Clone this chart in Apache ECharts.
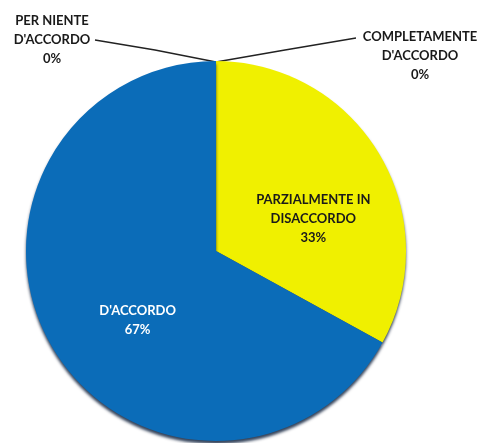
<!DOCTYPE html>
<html>
<head>
<meta charset="utf-8">
<script src="https://cdn.jsdelivr.net/npm/echarts@6/dist/echarts.min.js"></script>
<style>
  html, body { margin: 0; padding: 0; background: #fff; }
  #pie { width: 484px; height: 443px; }
</style>
</head>
<body>
<div id="pie"></div>
<script>
// categories and values (percent)
var categories = [
  "PER NIENTE\nD'ACCORDO",
  "PARZIALMENTE IN\nDISACCORDO",
  "D'ACCORDO",
  "COMPLETAMENTE\nD'ACCORDO"
];
var values = [0, 33, 67, 0];
var colors = ['#0b6cb8', '#f0f000', '#0b6cb8', '#f0f000'];

var chart = echarts.init(document.getElementById('pie'));

var seriesData = categories.map(function (name, i) {
  var item = { name: name, value: values[i], itemStyle: { color: colors[i] } };
  if (values[i] === 0) {
    item.label = { position: 'outside', color: '#1a1a1a' };
    item.labelLine = { show: true };
  } else if (i === 1) {
    item.label = { position: 'inside', color: '#1a1a1a' };
  } else {
    item.label = { position: 'inside', color: '#ffffff' };
  }
  return item;
});

var option = {
  backgroundColor: '#ffffff',
  animation: false,
  series: [{
    type: 'pie',
    center: [216, 251],
    radius: 190,
    startAngle: 90,
    clockwise: true,
    avoidLabelOverlap: false,
    itemStyle: {
      shadowColor: 'rgba(0, 20, 50, 0.8)',
      shadowBlur: 3,
      shadowOffsetY: 3
    },
    label: {
      formatter: '{b}\n{d}%',
      fontFamily: 'Lato',
      fontWeight: 'bold',
      fontSize: 13,
      lineHeight: 19,
      align: 'center'
    },
    labelLine: {
      lineStyle: { color: '#222', width: 1.3 }
    },
    labelLayout: function (p) {
      var i = p.dataIndex;
      if (i === 0) {
        return { x: 52, y: 40, align: 'center', verticalAlign: 'middle',
          labelLinePoints: [[216, 62], [155, 50], [95, 40]] };
      }
      if (i === 3) {
        return { x: 420, y: 56, align: 'center', verticalAlign: 'middle',
          labelLinePoints: [[216, 62], [285, 50], [356, 38]] };
      }
      if (i === 1) return { dx: 13, dy: 18 };
      if (i === 2) return { dx: 6, dy: 19 };
    },
    data: seriesData
  }]
};

chart.setOption(option);
</script>
</body>
</html>
